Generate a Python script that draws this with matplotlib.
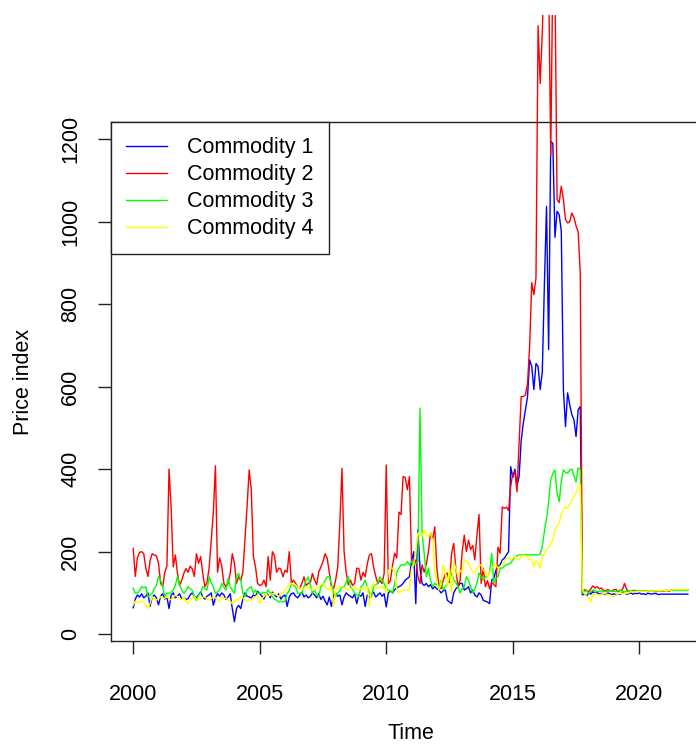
import numpy as np
import matplotlib
matplotlib.use('Agg')
import matplotlib.pyplot as plt
from matplotlib.transforms import Bbox, TransformedBbox

plt.rcParams['font.family'] = ['Liberation Sans', 'DejaVu Sans']

# Monthly price indices, Jan 2000 - Dec 2021 (one row per year)
commodity_1 = [
    64, 85, 95, 90, 98, 88, 92, 100, 67, 90, 95, 88,
    71, 92, 98, 85, 90, 62, 95, 100, 88, 92, 98, 85,
    90, 84, 86, 95, 100, 92, 88, 95, 102, 90, 85, 92,
    95, 100, 70, 88, 98, 92, 100, 95, 84, 90, 98, 62,
    30, 62, 70, 62, 85, 100, 92, 90, 88, 95, 92, 104,
    98, 92, 85, 100, 95, 88, 102, 95, 90, 98, 85, 92,
    95, 67, 90, 98, 100, 92, 88, 95, 102, 90, 95, 88,
    92, 100, 95, 88, 98, 84, 92, 80, 71, 90, 67, 95,
    98, 92, 95, 71, 90, 100, 95, 92, 88, 98, 74, 95,
    92, 100, 67, 95, 88, 98, 102, 90, 95, 100, 92, 98,
    66, 100, 105, 100, 108, 112, 115, 118, 123, 131, 135, 139,
    176, 200, 74, 253, 160, 123, 118, 123, 115, 120, 110, 115,
    110, 107, 100, 105, 107, 82, 78, 74, 100, 110, 115, 123,
    123, 107, 110, 115, 100, 107, 95, 90, 100, 95, 82, 80,
    78, 74, 131, 135, 155, 165, 168, 180, 184, 192, 200, 406,
    380, 400, 360, 382, 470, 512, 544, 576, 665, 649, 593, 656,
    649, 593, 636, 850, 1037, 690, 1195, 1190, 962, 1025, 1017, 977,
    593, 503, 585, 556, 532, 520, 479, 544, 552, 95, 98, 92,
    100, 97, 103, 99, 101, 97, 99, 98, 96, 100, 98, 96,
    98, 95, 98, 97, 100, 99, 97, 98, 100, 97, 99, 98,
    100, 97, 98, 96, 99, 98, 97, 99, 98, 96, 97, 97,
    97, 97, 97, 97, 97, 97, 97, 97, 97, 97, 97, 97,
]
commodity_2 = [
    208, 140, 185, 198, 200, 195, 160, 140, 178, 195, 192, 190,
    172, 123, 115, 150, 165, 400, 305, 163, 192, 147, 118, 130,
    147, 159, 150, 165, 158, 140, 195, 172, 188, 147, 115, 125,
    160, 228, 295, 408, 150, 185, 165, 123, 115, 123, 147, 195,
    172, 123, 139, 130, 150, 228, 309, 398, 350, 188, 163, 123,
    118, 120, 131, 115, 188, 131, 200, 190, 150, 160, 158, 139,
    155, 150, 200, 123, 131, 123, 115, 112, 123, 139, 118, 123,
    125, 147, 131, 120, 151, 163, 176, 195, 184, 150, 115, 110,
    131, 163, 269, 402, 200, 150, 120, 131, 118, 123, 160, 159,
    131, 150, 139, 170, 192, 195, 163, 140, 123, 130, 123, 147,
    410, 123, 130, 168, 196, 185, 296, 290, 382, 380, 350, 382,
    175, 168, 180, 140, 123, 168, 150, 170, 200, 245, 230, 260,
    160, 115, 110, 130, 145, 148, 125, 196, 220, 160, 115, 130,
    200, 240, 200, 228, 205, 215, 180, 240, 290, 123, 160, 115,
    130, 110, 125, 120, 115, 211, 196, 308, 305, 308, 300, 358,
    390, 394, 345, 464, 576, 576, 580, 608, 700, 852, 823, 863,
    1475, 1335, 1460, 1650, 1650, 1600, 1160, 1620, 1580, 1054, 1046, 1086,
    1054, 1005, 997, 1000, 1021, 1010, 990, 975, 876, 100, 108, 105,
    103, 110, 117, 112, 115, 110, 112, 106, 105, 108, 106, 104,
    108, 108, 103, 106, 108, 123, 108, 104, 103, 106, 106, 104,
    103, 105, 104, 105, 103, 104, 105, 104, 103, 104, 105, 104,
    105, 106, 104, 107, 107, 107, 107, 107, 107, 107, 107, 107,
]
commodity_3 = [
    111, 99, 100, 105, 115, 112, 115, 90, 95, 99, 110, 118,
    139, 131, 115, 91, 99, 99, 102, 107, 119, 139, 120, 107,
    99, 105, 115, 110, 107, 90, 82, 95, 99, 115, 110, 107,
    139, 125, 115, 99, 103, 107, 123, 115, 107, 135, 115, 107,
    99, 139, 147, 131, 99, 91, 107, 112, 115, 99, 107, 99,
    99, 99, 102, 99, 107, 100, 91, 85, 82, 78, 80, 78,
    80, 99, 105, 123, 118, 115, 99, 99, 99, 115, 131, 139,
    120, 99, 107, 95, 91, 115, 120, 131, 139, 139, 123, 100,
    91, 99, 105, 115, 115, 125, 139, 115, 110, 99, 95, 91,
    115, 120, 131, 115, 100, 91, 115, 120, 123, 139, 130, 123,
    110, 107, 105, 99, 123, 150, 160, 168, 168, 168, 176, 168,
    176, 168, 172, 176, 548, 245, 196, 139, 160, 130, 115, 123,
    120, 115, 131, 107, 115, 123, 135, 148, 131, 125, 115, 100,
    110, 115, 139, 131, 115, 100, 110, 123, 148, 140, 131, 139,
    139, 150, 196, 123, 135, 139, 160, 160, 165, 168, 170, 172,
    180, 187, 190, 192, 192, 192, 193, 192, 192, 192, 193, 192,
    192, 195, 212, 250, 280, 320, 374, 390, 398, 342, 321, 370,
    398, 392, 390, 398, 400, 385, 369, 403, 400, 99, 103, 107,
    99, 103, 107, 105, 103, 104, 105, 103, 104, 103, 105, 104,
    104, 103, 105, 107, 103, 104, 103, 104, 105, 104, 105, 104,
    105, 104, 105, 104, 105, 105, 104, 105, 105, 104, 105, 105,
    106, 106, 106, 106, 106, 106, 106, 106, 106, 106, 106, 106,
]
commodity_4 = [
    71, 80, 78, 76, 80, 78, 70, 62, 74, 91, 85, 83,
    85, 91, 88, 87, 91, 85, 83, 90, 95, 91, 87, 83,
    91, 80, 74, 83, 88, 91, 85, 83, 87, 90, 91, 85,
    83, 87, 91, 88, 83, 80, 91, 87, 87, 83, 80, 74,
    80, 83, 85, 91, 88, 83, 80, 82, 83, 87, 91, 95,
    74, 85, 91, 99, 91, 95, 99, 97, 95, 91, 99, 99,
    107, 115, 118, 123, 121, 119, 115, 112, 107, 111, 113, 115,
    110, 107, 107, 112, 115, 120, 123, 115, 110, 107, 115, 67,
    107, 112, 115, 115, 113, 111, 107, 109, 111, 115, 110, 107,
    111, 110, 107, 115, 68, 115, 123, 115, 111, 113, 115, 111,
    100, 155, 160, 160, 158, 105, 100, 103, 107, 107, 107, 107,
    160, 168, 200, 245, 240, 237, 253, 240, 237, 245, 228, 148,
    130, 107, 123, 168, 148, 115, 160, 100, 176, 160, 139, 155,
    148, 180, 176, 172, 160, 150, 148, 160, 165, 168, 155, 150,
    139, 150, 160, 165, 168, 160, 165, 168, 176, 183, 185, 181,
    185, 188, 183, 180, 188, 192, 190, 186, 180, 182, 163, 178,
    172, 160, 185, 195, 205, 209, 218, 228, 253, 262, 270, 290,
    301, 309, 305, 315, 325, 335, 342, 357, 362, 107, 99, 91,
    88, 78, 95, 99, 96, 95, 97, 99, 98, 96, 95, 93,
    90, 95, 99, 99, 98, 99, 99, 100, 103, 102, 103, 103,
    103, 104, 103, 104, 104, 105, 104, 105, 105, 106, 105, 106,
    106, 106, 106, 107, 108, 108, 108, 108, 108, 108, 108, 108,
]
series_names = ["Commodity 1", "Commodity 2", "Commodity 3", "Commodity 4"]
series_colors = ["#0000FF", "#FF0000", "#00FF00", "#FFFF00"]
x_ticks = [2000, 2005, 2010, 2015, 2020]
y_ticks = [0, 200, 400, 600, 800, 1000, 1200]

start_year = 2000
time = start_year + np.arange(len(commodity_1)) / 12.0

W, H = 696, 745
fig = plt.figure(figsize=(W / 100, H / 100), dpi=100)
# plot region runs past the right edge of the figure
ax = fig.add_axes([111 / W, 104 / H, 599 / W, 519 / H])

# axis ranges as base graphics would pick them from the first series (+4%)
def padded(lo, hi, frac=0.04):
    d = (hi - lo) * frac
    return lo - d, hi + d

ax.set_xlim(*padded(time[0], time[-1]))
ax.set_ylim(*padded(min(commodity_1), max(commodity_1)))

# lines may spill over the plot region up to the figure region
spill = TransformedBbox(Bbox([[0, 0], [1, 1 - 15 / H]]), fig.transFigure)
for vals, name, col in zip([commodity_1, commodity_2, commodity_3, commodity_4],
                           series_names, series_colors):
    ln, = ax.plot(time, vals, color=col, lw=1.0, label=name)
    ln.set_clip_box(spill)

ax.set_xticks(x_ticks)
ax.set_yticks(y_ticks)
ax.tick_params(axis='both', direction='out', length=9.5, width=1.0,
               color='#222222', labelsize=15.5, labelcolor='black')
ax.tick_params(axis='x', pad=21.5)
ax.tick_params(axis='y', pad=12, labelrotation=90)
for lab in ax.get_yticklabels():
    lab.set_va('center')
for sp in ax.spines.values():
    sp.set_linewidth(1.0)
    sp.set_color('#222222')

ax.set_xlabel("Time", fontsize=15.5, labelpad=13)
ax.set_ylabel("Price index", fontsize=15.5, labelpad=19)

leg = ax.legend(loc='upper left', bbox_to_anchor=(0, 1), borderaxespad=0,
                fontsize=15.5, frameon=True, fancybox=False, framealpha=1,
                edgecolor='#222222', handlelength=1.9, handletextpad=0.95,
                labelspacing=0.28, borderpad=0.7)
leg.get_frame().set_linewidth(1.0)

fig.savefig("out.png", dpi=100)
